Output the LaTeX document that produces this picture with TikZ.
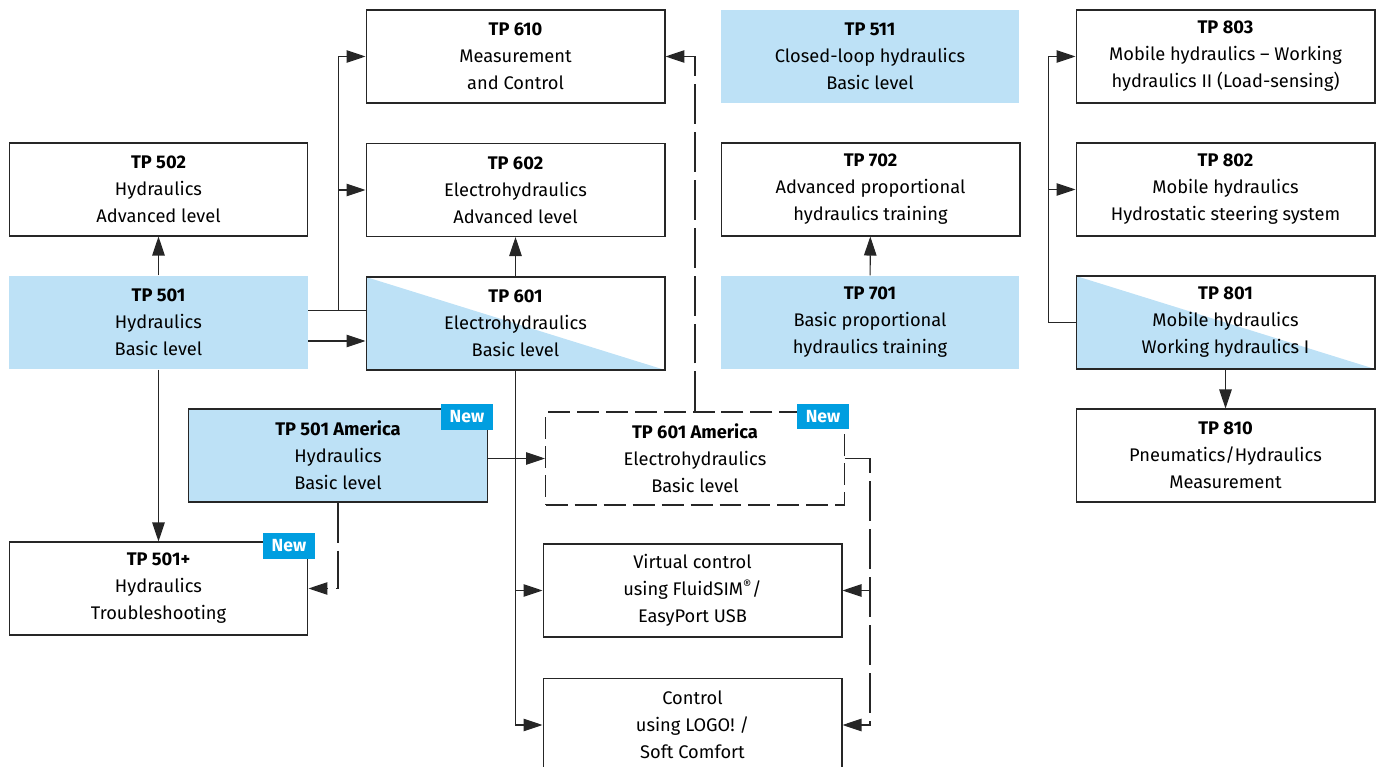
\documentclass[tikz,border=0pt]{standalone}
\usepackage{fontspec}
\setmainfont{Fira Sans}
\usetikzlibrary{arrows.meta,positioning}
\definecolor{lightblue}{RGB}{189,225,246}
\definecolor{newblue}{RGB}{0,158,224}

\begin{document}
\begin{tikzpicture}[
    x=0.02cm, y=-0.02cm,
    font=\fontsize{10.4}{15.4}\selectfont,
    box/.style={draw=black!85,line width=0.6pt,minimum width=5.98cm,minimum height=1.86cm,align=center,inner sep=0pt},
    fillbox/.style={box,draw=none,fill=lightblue},
    framedfill/.style={box,fill=lightblue},
    halfbox/.style={box,path picture={\fill[lightblue] (path picture bounding box.north west) -- (path picture bounding box.south east) -- (path picture bounding box.south west) -- cycle;}},
    dashbox/.style={box,dash pattern=on 0.44cm off 0.14cm},
    badge/.style={fill=newblue,text=white,font=\fontsize{10}{12}\selectfont\bfseries,minimum width=1.04cm,minimum height=0.52cm,inner sep=0pt},
    arr/.style={-{Triangle[length=0.38cm,width=0.25cm]},line width=0.6pt,draw=black!85},
    darr/.style={arr,dash pattern=on 0.8cm off 0.16cm}
  ]
    \useasboundingbox (0,0) rectangle (1377,767);

    % Row 1
    \node[box] (tp610) at (515.5,56.5) {\textbf{TP 610}\\Measurement\\and Control};
    \node[fillbox] (tp511) at (870,56.5) {\textbf{TP 511}\\Closed-loop hydraulics\\Basic level};
    \node[box] (tp803) at (1225.5,56.5) {\textbf{TP 803}\\Mobile hydraulics -- Working\\hydraulics II (Load-sensing)};

    % Row 2
    \node[box] (tp502) at (158.5,189.5) {\textbf{TP 502}\\Hydraulics\\Advanced level};
    \node[box] (tp602) at (515.5,190) {\textbf{TP 602}\\Electrohydraulics\\Advanced level};
    \node[box] (tp702) at (870.5,189.5) {\textbf{TP 702}\\Advanced proportional\\hydraulics training};
    \node[box] (tp802) at (1225.5,189.5) {\textbf{TP 802}\\Mobile hydraulics\\Hydrostatic steering system};

    % Row 3
    \node[fillbox] (tp501) at (158.5,322.5) {\textbf{TP 501}\\Hydraulics\\Basic level};
    \node[halfbox] (tp601) at (515.5,323.5) {\textbf{TP 601}\\Electrohydraulics\\Basic level};
    \node[fillbox] (tp701) at (870,322.5) {\textbf{TP 701}\\Basic proportional\\hydraulics training};
    \node[halfbox] (tp801) at (1225.5,322.5) {\textbf{TP 801}\\Mobile hydraulics\\Working hydraulics I};

    % Row 4
    \node[framedfill] (tp501am) at (338,455.5) {\textbf{TP 501 America}\\Hydraulics\\Basic level};
    \node[dashbox] (tp601am) at (695,458.5) {\textbf{TP 601 America}\\Electrohydraulics\\Basic level};
    \node[box] (tp810) at (1225.5,455.5) {\textbf{TP 810}\\Pneumatics/Hydraulics\\Measurement};

    % Row 5 and 6
    \node[box] (tp501p) at (158.5,588.5) {\textbf{TP 501+}\\Hydraulics\\Troubleshooting};
    \node[box] (virt) at (692.5,590.5) {Virtual control\\using FluidSIM\textsuperscript{®}/\\EasyPort USB};
    \node[box] (ctrl) at (692.5,725) {Control\\using LOGO! /\\Soft Comfort};

    % New badges
    \node[badge] (new501am) at (467,417) {New};
    \node[badge] (new601am) at (823,416.5) {New};
    \node[badge] (new501p) at (289,545.5) {New};

    % Connectors
    \coordinate (j501a) at ([yshift=0.24cm]tp501.east);
    \coordinate (j501b) at ([yshift=-0.37cm]tp501.east);
    \draw[arr] (tp501) -- (tp502);
    \draw[arr] (tp501) -- (tp501p);
    \draw[arr] (j501a) -- ++(30,0) |- (tp610);
    \draw[arr] (j501a) ++(30,0) |- (tp602);
    \draw[arr,-] (j501a) -- (j501a -| tp601.west);
    \draw[arr] (j501b) -- (j501b -| tp601.west);
    \draw[arr] (tp601) -- (tp602);
    \draw[arr] (tp601.south) |- (virt);
    \draw[arr] (tp601.south) |- (ctrl);
    \draw[darr] (tp501am.east |- tp601am.west) -- (tp601am.west);
    \draw[darr] (tp501am.south) |- (tp501p);
    \draw[darr] (tp601am.north) |- (tp610);
    \draw[darr] (tp601am.east) -- ++(25,0) |- (virt);
    \draw[darr] (tp601am.east) -- ++(25,0) |- (ctrl);
    \draw[arr] (tp701) -- (tp702);
    \draw[arr] (tp801.west) -- ++(-27,0) |- (tp803);
    \draw[arr] (tp801.west) -- ++(-27,0) |- (tp802);
    \draw[arr] (tp801) -- (tp810);
\end{tikzpicture}
\end{document}
